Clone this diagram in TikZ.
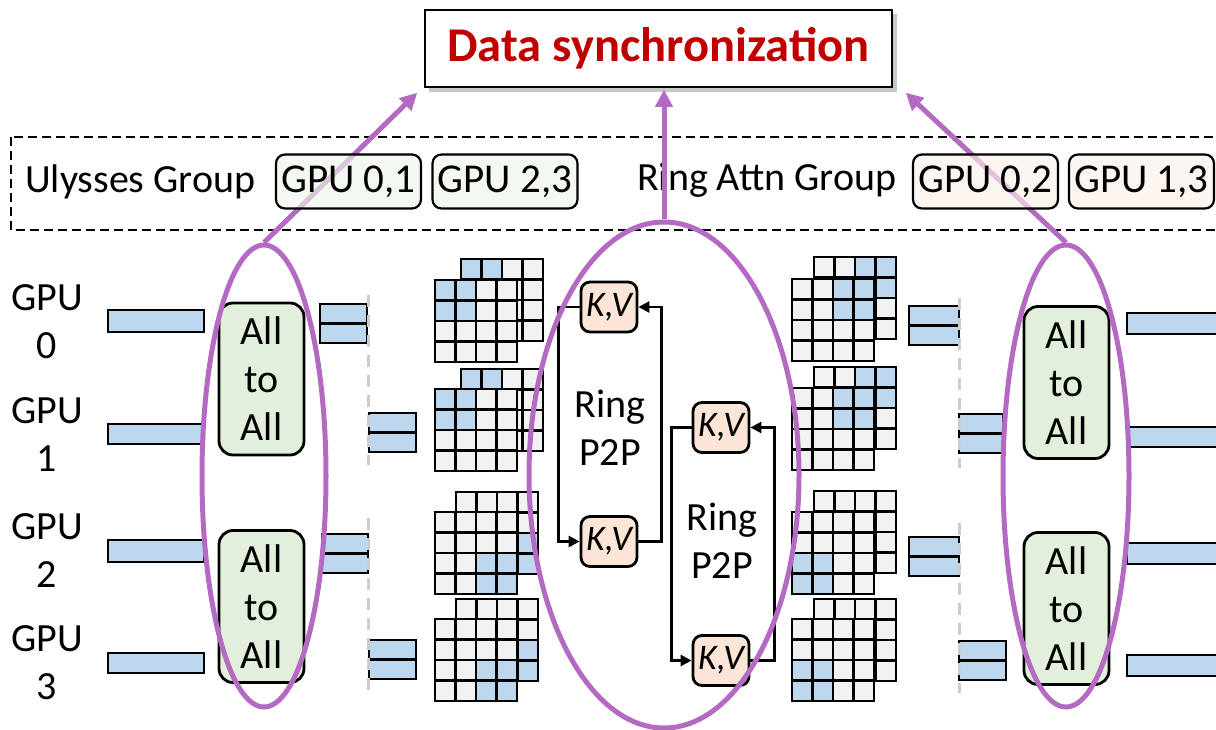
\documentclass[tikz,border=0pt]{standalone}
\usepackage{fontspec}
\setmainfont{Carlito}
\usetikzlibrary{shapes.geometric,arrows.meta,calc}
\definecolor{cblue}{HTML}{BDD7EE}
\definecolor{cgray}{HTML}{F2F2F2}
\definecolor{cgreen}{HTML}{E2EFDA}
\definecolor{cgreenl}{HTML}{EDF5E9}
\definecolor{cpeach}{HTML}{FBE5D6}
\definecolor{cpeachl}{HTML}{FDF0E7}
\definecolor{cpurple}{HTML}{B46AC2}
\definecolor{cred}{HTML}{C00000}
\definecolor{cdash}{HTML}{CCCCCC}
\newcommand{\cellgrid}[4]{%
  \fill[cgray] (#1,#2) rectangle ++(82,82);
  \fill[cblue] ({#1+#4*20.5},{#2+#3*20.5}) rectangle ++(41,41);
  \foreach \ii in {0,...,4} {
    \draw[gridline] ({#1+\ii*20.5},#2) -- ++(0,82);
    \draw[gridline] (#1,{#2+\ii*20.5}) -- ++(82,0);
  }
}
\newcommand{\dbar}[3]{%
  \draw[barstyle] (#1,#3) rectangle (#2,{#3+19.5});
  \draw[barstyle] (#1,{#3+19.5}) rectangle (#2,{#3+39});
}
\begin{document}
\begin{tikzpicture}[x=1pt,y=-1pt,
  txt/.style={inner sep=0pt, font=\fontsize{40}{48}\selectfont, align=center},
  a2a/.style={draw, line width=2.8pt, rounded corners=14pt, fill=cgreen, minimum width=85pt, minimum height=152pt, inner sep=0pt, align=center, font=\fontsize{40}{48}\selectfont},
  kvbox/.style={draw, line width=2.8pt, rounded corners=9pt, fill=cpeach, minimum width=56pt, minimum height=50pt, inner sep=0pt, font=\fontsize{36}{40}\selectfont\itshape},
  grpbox/.style={draw, line width=2.2pt, rounded corners=9pt, minimum width=145pt, minimum height=54pt, inner sep=0pt, fill opacity=0.65, text opacity=1, font=\fontsize{41}{46}\selectfont},
  barstyle/.style={draw, line width=2.8pt, fill=cblue},
  gridline/.style={line width=2.8pt, line cap=rect},
  ringarr/.style={line width=2.6pt, -{Triangle[length=11pt,width=11pt]}},
  purp/.style={draw=cpurple, line width=5pt},
  parrow/.style={cpurple, line width=5pt, -{Triangle[length=17pt,width=17pt]}},
  grayd/.style={cdash, line width=3pt, dash pattern=on 12pt off 8pt}
]
\useasboundingbox (0,0) rectangle (1216,730);
\clip (0,0) rectangle (1216,730);
\fill[white] (0,0) rectangle (1216,730);

% title
\fill[black!22] (429,14) rectangle (897,92);
\node[draw, line width=1.6pt, fill=white, minimum width=467pt, minimum height=77pt, inner sep=0pt,
  font=\fontsize{48.5}{52}\selectfont\bfseries, text=cred] (title) at (658.5,48.5) {Data synchronization};

% dashed group box
\draw[line width=2.6pt, dash pattern=on 9pt off 5pt] (11,137) rectangle (1240,230);
\node[txt, anchor=west] (ulys) at (25,182) {Ulysses Group};
\node[txt, anchor=west] (ringg) at (637,180) {Ring Attn Group};

% GPU labels
\node[txt] (g0) at (47,321.5) {GPU\\0};
\node[txt] (g1) at (47,434.5) {GPU\\1};
\node[txt] (g2) at (47,550.5) {GPU\\2};
\node[txt] (g3) at (47,663) {GPU\\3};

% left long bars
\draw[barstyle] (108,310) rectangle (204,332);
\draw[barstyle] (108,424) rectangle (204,444);
\draw[barstyle] (108,540) rectangle (204,562);
\draw[barstyle] (108,653) rectangle (204,673);
% right long bars
\draw[barstyle] (1127,313) rectangle (1240,334);
\draw[barstyle] (1127,427) rectangle (1240,447);
\draw[barstyle] (1127,543) rectangle (1240,564);
\draw[barstyle] (1127,655) rectangle (1240,676);

% All to All boxes
\node[a2a] (aL1) at (261.5,379) {All\\to\\All};
\node[a2a] (aL2) at (261.5,606.5) {All\\to\\All};
\node[a2a] (aR1) at (1066.5,382.5) {All\\to\\All};
\node[a2a] (aR2) at (1066.5,608.5) {All\\to\\All};

% small double bars
\dbar{320}{367}{304}
\dbar{369}{416}{413}
\dbar{322}{368}{534}
\dbar{369}{416}{640}
\dbar{909}{959}{306}
\dbar{959}{1003}{414}
\dbar{909}{959}{537}
\dbar{959}{1006}{641}

% gray dashed separators
\draw[grayd] (368,295) -- (368,465);
\draw[grayd] (368,518) -- (368,690);
\draw[grayd] (959,298) -- (959,468);
\draw[grayd] (959,523) -- (959,693);

% left grids
\cellgrid{461}{259}{0}{0}
\cellgrid{435}{280}{0}{0}
\cellgrid{461}{369}{0}{0}
\cellgrid{435}{389}{0}{0}
\cellgrid{456}{492}{2}{2}
\cellgrid{435}{512}{2}{2}
\cellgrid{456}{599}{2}{2}
\cellgrid{435}{619}{2}{2}
% right grids
\cellgrid{814}{257}{0}{2}
\cellgrid{792}{279}{0}{2}
\cellgrid{814}{367}{0}{2}
\cellgrid{792}{388}{0}{2}
\cellgrid{814}{491}{2}{0}
\cellgrid{792}{512}{2}{0}
\cellgrid{814}{599}{2}{0}
\cellgrid{792}{619}{2}{0}

% Ring P2P
\node[kvbox] (kv0) at (609,307) {K,V};
\node[kvbox] (kv2) at (609,541.5) {K,V};
\node[kvbox] (kv1) at (721,427.5) {K,V};
\node[kvbox] (kv3) at (721,660.5) {K,V};
\node[txt] (rp1) at (610,428) {Ring\\P2P};
\node[txt] (rp2) at (722,541) {Ring\\P2P};
\draw[ringarr] (kv0.west) -- ++(-21,0) |- (kv2.west);
\draw[ringarr] (kv2.east) -- ++(23,0) |- (kv0.east);
\draw[ringarr] (kv1.west) -- ++(-20,0) |- (kv3.west);
\draw[ringarr] (kv3.east) -- ++(24,0) |- (kv1.east);

% ellipses
\node[ellipse, purp, minimum width=124pt, minimum height=462pt, inner sep=0pt] (eL) at (264,476) {};
\node[ellipse, purp, minimum width=270pt, minimum height=506pt, inner sep=0pt] (eM) at (664,475) {};
\node[ellipse, purp, minimum width=126pt, minimum height=462pt, inner sep=0pt] (eR) at (1066,476) {};

% purple arrows
\draw[parrow] (eL.north) -- ($(title.south west)+(-7,5)$);
\draw[parrow] (eM.north) -- ($(title.south)+(5.5,2)$);
\draw[parrow] (eR.north) -- ($(title.south east)+(13,5)$);

% group boxes
\node[grpbox, fill=cgreenl] (u01) at (348.5,181.5) {GPU 0,1};
\node[grpbox, fill=cgreenl] (u23) at (505,181.5) {GPU 2,3};
\node[grpbox, fill=cpeachl] (r02) at (985.5,181.5) {GPU 0,2};
\node[grpbox, fill=cpeachl] (r13) at (1141.5,181.5) {GPU 1,3};
\end{tikzpicture}
\end{document}
